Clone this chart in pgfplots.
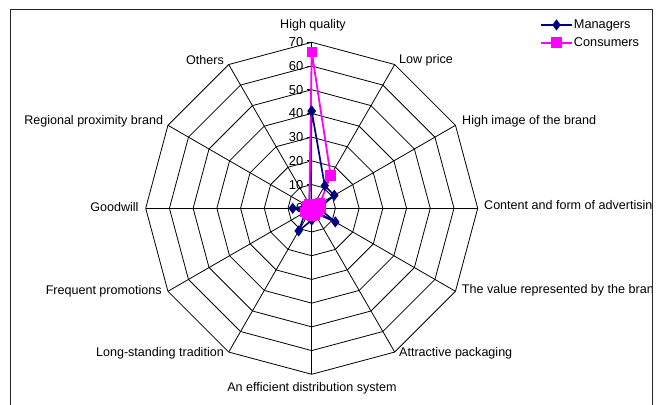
\documentclass[border=0pt]{standalone}
\usepackage{pgfplots}
\pgfplotsset{compat=1.18}
\usepackage{pgfplotstable}
\usepackage{fontspec}
\setmainfont{Liberation Sans}
\definecolor{mgr}{RGB}{0,0,128}
\definecolor{cons}{RGB}{255,0,255}

\pgfplotstableread{
a r
0 41
30 11
60 11
90 3
120 11.5
150 2
180 5
210 11
240 3
270 8
300 2
330 2
360 41
}\managers

\pgfplotstableread{
a r
0 66
30 16
60 4
90 4
120 3
150 3
180 3
210 3
240 3
270 2
300 2
330 2
360 66
}\consumers

\pgfplotstableread{
a r
0 1
30 1
60 1
90 1
120 1
150 1
180 1
210 1
240 1
270 1
300 1
330 1
360 1
}\angles

\begin{document}
\begin{tikzpicture}[font=\fontsize{12.6}{15}\selectfont]
\begin{axis}[at={(0,0)}, anchor=south west, scale only axis,
  width=658bp, height=405bp,
  xmin=-131.44, xmax=146.03, ymin=-82.95, ymax=87.84,
  hide axis, clip=false,
  legend style={at={(axis cs:96.4,80.0)}, anchor=north west, draw=none, fill=none,
    inner sep=0pt, outer sep=0pt, row sep=5bp, nodes={inner sep=1.2bp},
    font=\fontsize{12.8}{15}\selectfont},
  legend cell align=left,
  legend image code/.code={\draw[mark repeat=2,mark phase=2] plot coordinates {(0bp,0bp) (15.3bp,0bp) (30.6bp,0bp)};},
]
\pgfplotsinvokeforeach{10,20,30,40,50,60,70}{
  \addplot[black, line width=0.8bp, forget plot] table[x expr={#1*\thisrow{r}*sin(\thisrow{a})}, y expr={#1*\thisrow{r}*cos(\thisrow{a})}] \angles;
}
\pgfplotsinvokeforeach{0,30,60,90,120,150,180,210,240,270,300,330}{
  \draw[black, line width=0.8bp] (axis cs:0,0) -- (axis cs:{70*sin(#1)},{70*cos(#1)});
}
\pgfplotsinvokeforeach{0,10,20,30,40,50,60,70}{
  \draw[black, line width=0.8bp] (axis cs:-1.8,#1) -- (axis cs:0,#1);
  \node[anchor=east, inner sep=0pt, font=\fontsize{13}{15}\selectfont] at (axis cs:-3.5,#1) {#1};
}
\addplot[mgr, line width=1.7bp, mark=diamond*, mark size=4.2bp, mark options={solid, fill=mgr}]
  table[x expr={\thisrow{r}*sin(\thisrow{a})}, y expr={\thisrow{r}*cos(\thisrow{a})}] \managers;
\addlegendentry{Managers}
\addplot[cons, line width=1.8bp, mark=square*, mark size=4.3bp, mark options={solid, fill=cons}]
  table[x expr={\thisrow{r}*sin(\thisrow{a})}, y expr={\thisrow{r}*cos(\thisrow{a})}] \consumers;
\addlegendentry{Consumers}
\end{axis}
\node[anchor=center, inner sep=0pt] at (313bp,379.3bp) {High quality};
\node[anchor=west, inner sep=0pt] at (399bp,345bp) {Low price};
\node[anchor=west, inner sep=0pt] at (462bp,283.3bp) {High image of the brand};
\node[anchor=west, inner sep=0pt] at (484bp,198.3bp) {Content and form of advertising};
\node[anchor=west, inner sep=0pt] at (461.7bp,114.3bp) {The value represented by the brand};
\node[anchor=west, inner sep=0pt] at (399bp,51.7bp) {Attractive packaging};
\node[anchor=center, inner sep=0pt] at (312bp,16.7bp) {An efficient distribution system};
\node[anchor=east, inner sep=0pt] at (224bp,51.7bp) {Long-standing tradition};
\node[anchor=east, inner sep=0pt] at (161.8bp,113.3bp) {Frequent promotions};
\node[anchor=east, inner sep=0pt] at (138.7bp,198.3bp) {Goodwill};
\node[anchor=east, inner sep=0pt] at (163.3bp,283.3bp) {Regional proximity brand};
\node[anchor=east, inner sep=0pt] at (224bp,345bp) {Others};
\fill[white] (652.5bp,-5bp) rectangle (665bp,410bp);
\draw[black!85, line width=1bp] (10bp,-5bp) rectangle (652bp,395bp);
\pgfresetboundingbox
\useasboundingbox (0,0) rectangle (658bp,405bp);
\end{tikzpicture}
\end{document}
